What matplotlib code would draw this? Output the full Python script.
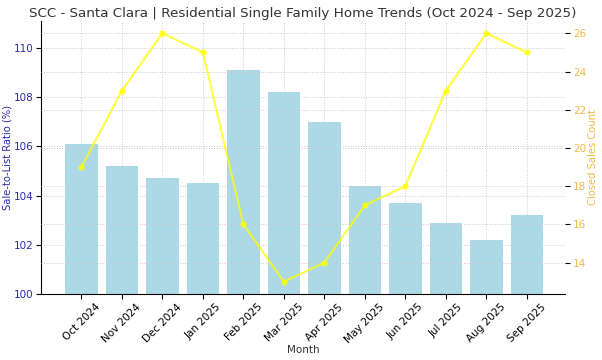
import matplotlib
matplotlib.use('Agg')
import matplotlib.pyplot as plt
import numpy as np

# data
months = ['Oct 2024', 'Nov 2024', 'Dec 2024', 'Jan 2025', 'Feb 2025', 'Mar 2025',
          'Apr 2025', 'May 2025', 'Jun 2025', 'Jul 2025', 'Aug 2025', 'Sep 2025']
sale_to_list = [106.1, 105.2, 104.7, 104.5, 109.1, 108.2, 107.0, 104.4, 103.7, 102.9, 102.2, 103.2]
closed_sales = [19, 23, 26, 25, 16, 13, 14, 17, 18, 23, 26, 25]

fig = plt.figure(figsize=(6.02, 3.6), dpi=100)
ax1 = fig.add_axes([0.068, 0.183, 0.871, 0.759])

x = np.arange(len(months))
ax1.bar(x, sale_to_list, width=0.8, color='lightblue', zorder=2)
ax1.set_ylim(100, max(sale_to_list) + 2)
ax1.set_xlim(-1, 11.95)
ax1.set_xticks(x)
ax1.set_xticklabels(months, rotation=45, fontsize=7.5)
ax1.tick_params(axis='x', pad=2)
ax1.set_xlabel('Month', fontsize=7.5, color='#333333', labelpad=0)
ax1.set_ylabel('Sale-to-List Ratio (%)', fontsize=7.2, color='#2a2aa8', labelpad=1)
ax1.tick_params(axis='y', labelcolor='#2a2aa8', labelsize=7.5, pad=2)
ax1.grid(True, linestyle=':', color='#cccccc', linewidth=0.7, zorder=0)
ax1.set_axisbelow(True)
ax1.spines['top'].set_visible(False)
ax1.spines['right'].set_visible(False)

ax2 = ax1.twinx()
ax2.plot(x, closed_sales, color='yellow', marker='o', markersize=3.5,
         linewidth=1.5, alpha=0.75, zorder=3)
ax2.set_ylabel('Closed Sales Count', fontsize=7.2, color='#f0b848', labelpad=1)
ax2.tick_params(axis='y', labelcolor='#f0b848', labelsize=7.5, pad=2)
ax2.grid(True, axis='y', linestyle=':', color='#cccccc', linewidth=0.7)
for s in ['top', 'right', 'left', 'bottom']:
    ax2.spines[s].set_visible(False)

ax1.set_title('SCC - Santa Clara | Residential Single Family Home Trends (Oct 2024 - Sep 2025)',
              fontsize=9.7, color='#333333', pad=3)

fig.savefig('out.png', dpi=100)
